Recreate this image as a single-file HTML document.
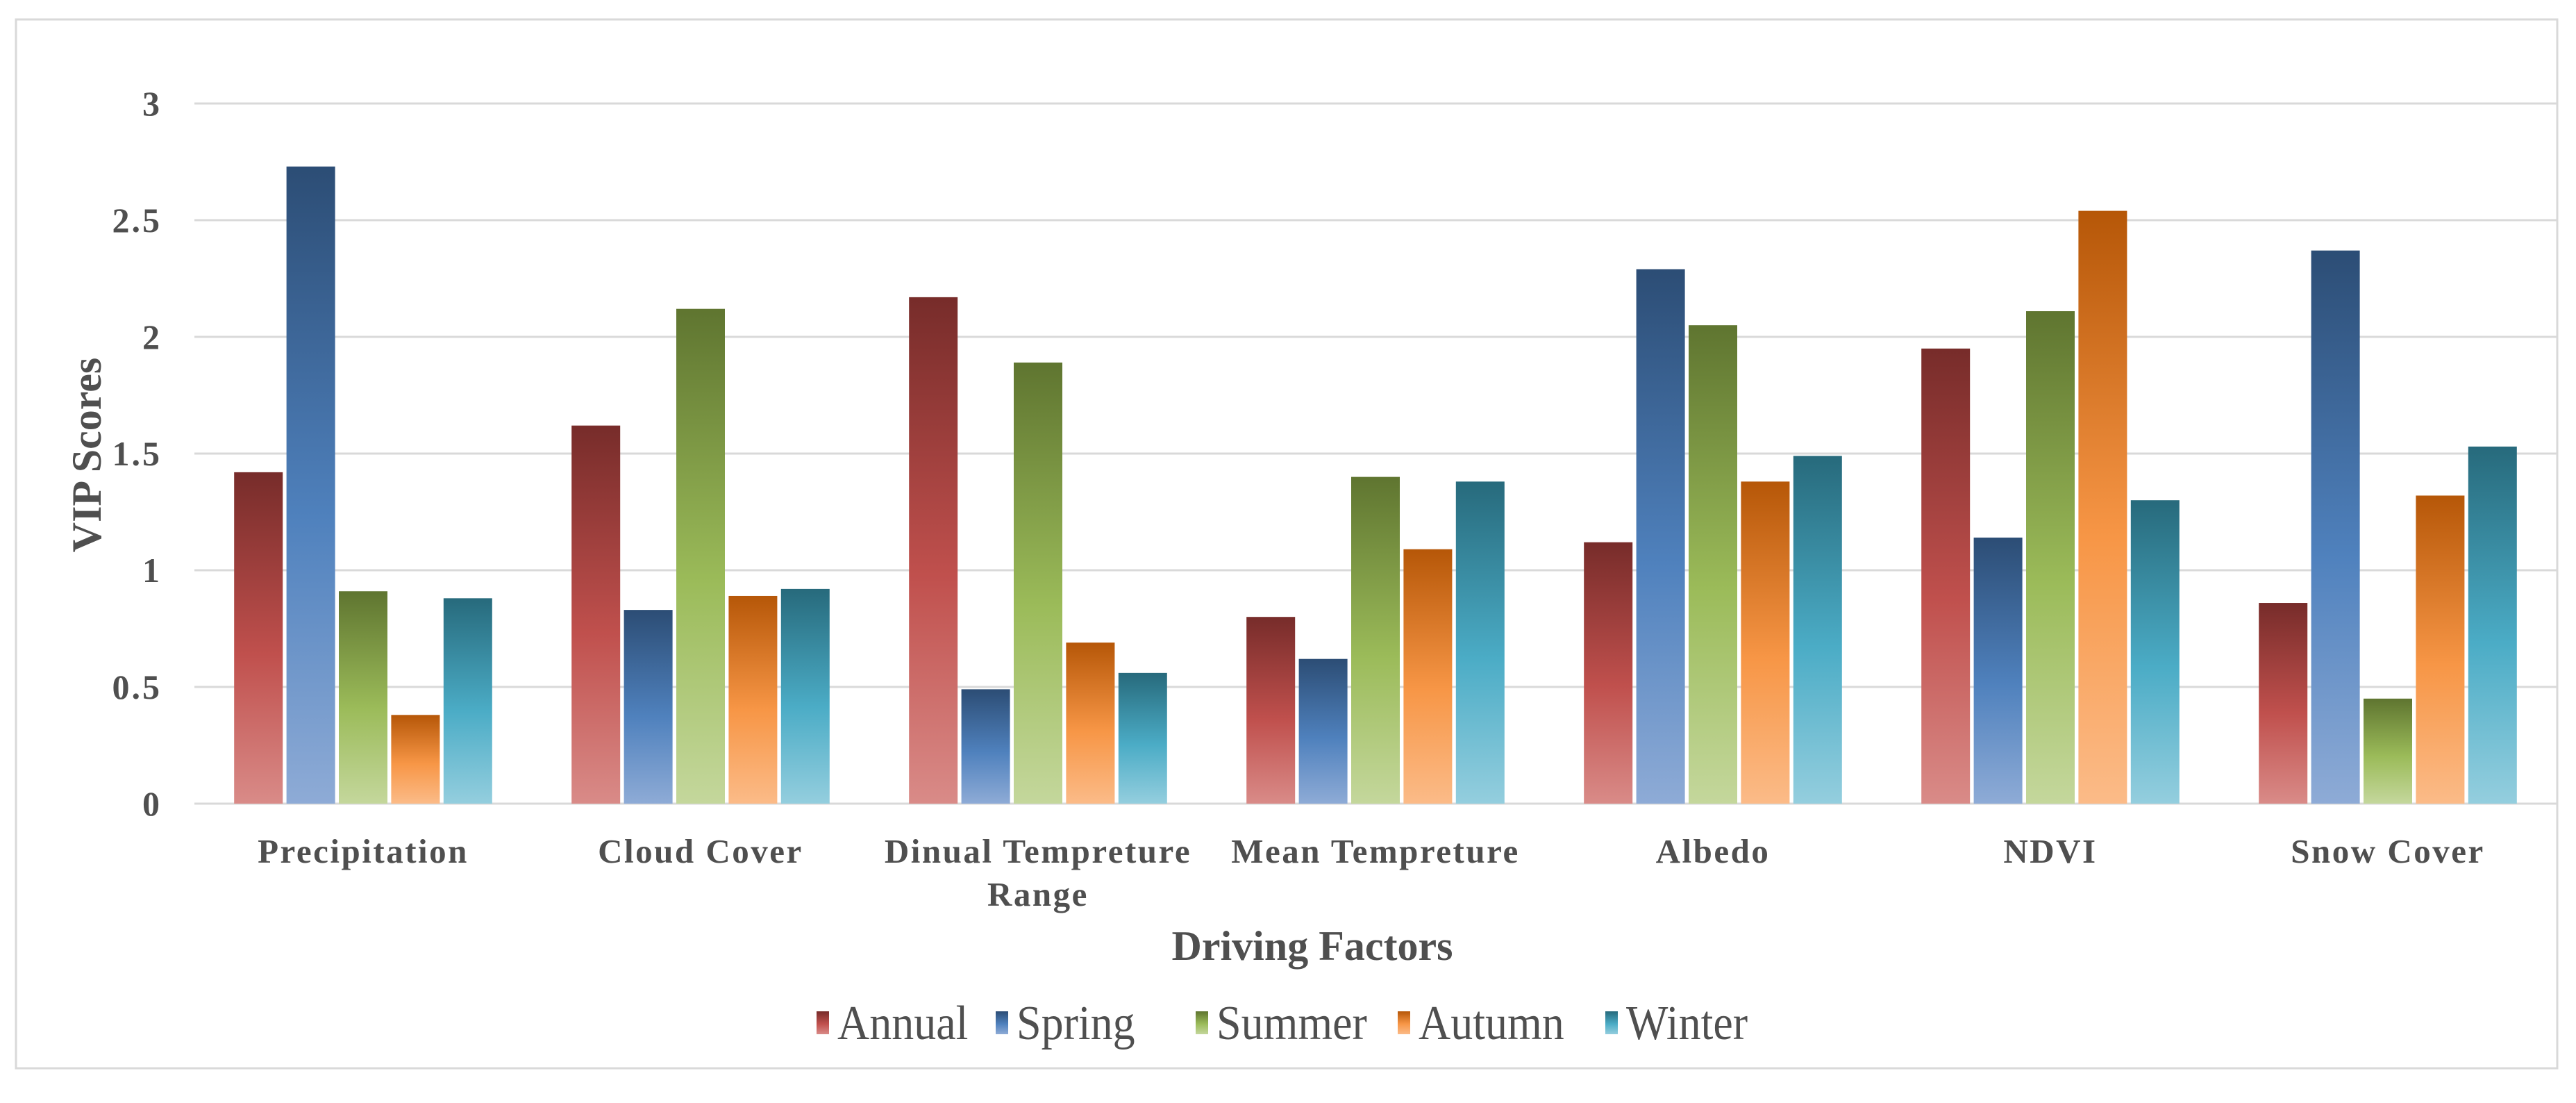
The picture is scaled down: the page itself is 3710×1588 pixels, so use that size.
<!DOCTYPE html>
<html><head><meta charset="utf-8"><style>
html,body{margin:0;padding:0;background:#fff;}
svg{display:block;}
text{font-family:"Liberation Serif",serif;fill:#4f4f4f;}
</style></head><body>
<svg id="chart" width="3710" height="1588" viewBox="0 0 3710 1588" xmlns="http://www.w3.org/2000/svg">
<defs>
<linearGradient id="g0" x1="0" y1="0" x2="0" y2="1"><stop offset="0" stop-color="#772c2a"/><stop offset="0.55" stop-color="#c0504d"/><stop offset="1" stop-color="#d98b88"/></linearGradient>
<linearGradient id="g1" x1="0" y1="0" x2="0" y2="1"><stop offset="0" stop-color="#2c4d75"/><stop offset="0.55" stop-color="#4f81bd"/><stop offset="1" stop-color="#8eabd6"/></linearGradient>
<linearGradient id="g2" x1="0" y1="0" x2="0" y2="1"><stop offset="0" stop-color="#5f7530"/><stop offset="0.55" stop-color="#9bbb59"/><stop offset="1" stop-color="#c4d79c"/></linearGradient>
<linearGradient id="g3" x1="0" y1="0" x2="0" y2="1"><stop offset="0" stop-color="#b65708"/><stop offset="0.55" stop-color="#f79646"/><stop offset="1" stop-color="#fbbb88"/></linearGradient>
<linearGradient id="g4" x1="0" y1="0" x2="0" y2="1"><stop offset="0" stop-color="#276a7c"/><stop offset="0.55" stop-color="#4bacc6"/><stop offset="1" stop-color="#94cede"/></linearGradient>
</defs>
<rect x="23" y="28" width="3660" height="1510" fill="#fff" stroke="#d9d9d9" stroke-width="3"/>
<g id="grid"></g>
<g id="bars"></g>
<g id="labels"></g>
<text transform="translate(145,655) rotate(-90)" text-anchor="middle" font-size="60" font-weight="bold">VIP Scores</text>
<text x="1890" y="1382" text-anchor="middle" font-size="60" font-weight="bold">Driving Factors</text>
<g id="legend"></g>
</svg>
<script>
const categories = [["Precipitation"],["Cloud Cover"],["Dinual Tempreture","Range"],["Mean Tempreture"],["Albedo"],["NDVI"],["Snow Cover"]];
const seriesNames = ["Annual","Spring","Summer","Autumn","Winter"];
const annual = [1.42,1.62,2.17,0.80,1.12,1.95,0.86];
const spring = [2.73,0.83,0.49,0.62,2.29,1.14,2.37];
const summer = [0.91,2.12,1.89,1.40,2.05,2.11,0.45];
const autumn = [0.38,0.89,0.69,1.09,1.38,2.54,1.32];
const winter = [0.88,0.92,0.56,1.38,1.49,1.30,1.53];
const yTicks = [0,0.5,1,1.5,2,2.5,3];
const yTickLabels = ["0","0.5","1","1.5","2","2.5","3"];

const series = [annual,spring,summer,autumn,winter];
const NS="http://www.w3.org/2000/svg";
const plotL=280, plotR=3682, y0=1157, y3=149, yMax=3;
const catW=(plotR-plotL)/categories.length;
const barW=70, barStep=75.4;
function yScale(v){return y0-(v/yMax)*(y0-y3);}
function xCat(i){return plotL+catW*i;}
function mk(tag,attrs,parent){const e=document.createElementNS(NS,tag);for(const k in attrs)e.setAttribute(k,attrs[k]);parent.appendChild(e);return e;}

const grid=document.getElementById('grid');
yTicks.forEach((t,i)=>{
  const l=mk('line',{x1:plotL,x2:plotR,y1:yScale(t),y2:yScale(t),stroke:'#d9d9d9','stroke-width':3},grid);
  
  
  const tx=mk('text',{x:233,y:yScale(t)+17,'text-anchor':'end','font-size':50,'font-weight':'bold','letter-spacing':3},grid);
  tx.textContent=yTickLabels[i];
  
  
});

const bars=document.getElementById('bars');
const groupPad=(catW-(barStep*4+barW))/2;
categories.forEach((c,i)=>{
  series.forEach((s,j)=>{
    const x=xCat(i)+groupPad+j*barStep;
    const y=yScale(s[i]);
    const r=mk('rect',{x:x,y:y,width:barW,height:y0-y,fill:'url(#g'+j+')'},bars);
    
    
  });
  const lab=document.getElementById('labels');
  c.forEach((line,k)=>{
    const t=mk('text',{x:xCat(i)+catW/2,y:1242+k*62,'text-anchor':'middle','font-size':49,'font-weight':'bold','letter-spacing':2.5},lab);
    t.textContent=line;
    
    
  });
});

const legend=document.getElementById('legend');
const legX=[1176,1434,1722,2013,2312];
seriesNames.forEach((n,j)=>{
  const sq=mk('rect',{x:legX[j],y:1456,width:18,height:33,fill:'url(#g'+j+')'},legend);
  
  
  const t=mk('text',{x:legX[j]+30,y:0,'font-size':64,transform:'translate(0,1496) scale(1,1.1)'},legend);
  t.textContent=n;
  
  
});
</script>
</body></html>
